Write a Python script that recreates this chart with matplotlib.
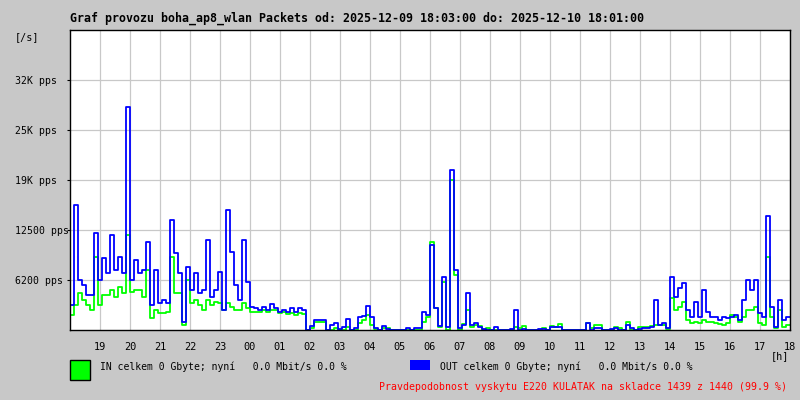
import matplotlib
matplotlib.use("Agg")
import matplotlib.pyplot as plt
import numpy as np
from matplotlib.patches import Rectangle

plt.rcParams['font.family'] = ['DejaVu Sans Mono']

# 8-minute samples from 18:00 to 18:00 next day, packets per second
out_pps = [
    3100, 15600, 6200, 5600, 4400, 4400, 12100, 6200, 9000, 7100,
    11900, 7500, 9100, 7100, 27900, 6200, 8700, 7100, 7500, 11000,
    3100, 7500, 3400, 3700, 3400, 13700, 9600, 7100, 1000, 7900,
    5000, 7100, 4600, 5000, 11200, 4100,
    5000, 7200, 2500, 15000, 9700, 5600, 3700, 11200, 6000, 2900,
    2700, 2500, 2900, 2500, 3200, 2700, 2200, 2500, 2200, 2700,
    2200, 2700, 2500, 0, 500, 1200, 1200, 1200, 0, 600,
    900, 100, 400, 1400, 0, 250,
    1600, 1700, 3000, 1600, 250, 0, 500, 100, 0, 0,
    0, 0, 250, 0, 250, 250, 2200, 1900, 10600, 2700,
    500, 6600, 400, 20000, 7500, 250, 600, 4600, 600, 900,
    400, 100, 0, 0, 400, 0,
    0, 0, 100, 2500, 0, 100, 0, 0, 0, 100,
    100, 0, 400, 400, 400, 0, 0, 0, 0, 0,
    0, 900, 0, 250, 250, 0, 0, 100, 250, 0,
    0, 600, 250, 0, 100, 250,
    250, 400, 3700, 600, 900, 250, 6600, 4100, 5200, 5900,
    2500, 1600, 3500, 1600, 5000, 2200, 1600, 1600, 1200, 1600,
    1500, 1600, 1900, 1200, 3700, 6200, 5000, 6200, 2100, 1600,
    14200, 2900, 400, 3700, 1200, 1600,
]
in_pps = [
    1900, 3100, 4600, 3700, 3100, 2500, 9100, 3100, 4400, 4400,
    5000, 4100, 5400, 4600, 11900, 4700, 5000, 5000, 4100, 7500,
    1500, 2500, 2100, 2100, 2200, 9100, 4600, 4600, 600, 6200,
    3400, 3700, 3100, 2500, 3700, 3100,
    3500, 3400, 2500, 3400, 2900, 2500, 2500, 3400, 2700, 2200,
    2200, 2200, 2500, 2200, 2500, 2500, 2100, 2200, 2000, 2100,
    1900, 2100, 2000, 0, 250, 1000, 1000, 1000, 0, 0,
    250, 0, 0, 400, 0, 0,
    900, 1200, 1900, 600, 100, 0, 250, 250, 0, 0,
    0, 0, 0, 0, 0, 0, 1000, 1600, 11000, 2700,
    400, 6000, 0, 18700, 6900, 0, 750, 2500, 400, 600,
    500, 0, 250, 0, 0, 0,
    0, 0, 0, 400, 250, 500, 0, 0, 0, 0,
    250, 0, 500, 400, 750, 0, 0, 0, 0, 0,
    0, 900, 250, 600, 600, 0, 0, 0, 400, 250,
    0, 1000, 0, 0, 400, 400,
    400, 500, 600, 600, 600, 100, 4000, 2500, 2900, 3500,
    1200, 900, 1000, 900, 1200, 1000, 1000, 900, 750, 600,
    900, 1900, 1600, 1000, 1600, 2500, 2500, 2900, 900, 600,
    9100, 1600, 250, 2500, 400, 600,
]
hours = ["19", "20", "21", "22", "23", "00", "01", "02", "03", "04", "05", "06",
         "07", "08", "09", "10", "11", "12", "13", "14", "15", "16", "17", "18"]
y_ticks = [6250, 12500, 18750, 25000, 31250]
y_labels = ["6200 pps", "12500 pps", "19K pps", "25K pps", "32K pps"]

title = "Graf provozu boha_ap8_wlan Packets od: 2025-12-09 18:03:00 do: 2025-12-10 18:01:00"
in_text = "IN celkem 0 Gbyte; nyní   0.0 Mbit/s 0.0 %"
out_text = "OUT celkem 0 Gbyte; nyní   0.0 Mbit/s 0.0 %"
note = "Pravdepodobnost vyskytu E220 KULATAK na skladce 1439 z 1440 (99.9 %)"

bg = "#c8c8c8"
W, H = 800, 400
fig = plt.figure(figsize=(8, 4), dpi=100, facecolor=bg)
ax = fig.add_axes([70 / W, 70 / H, 720 / W, 300 / H])

n = len(out_pps)
t = 18 + np.arange(n + 1) * 24 / n
ax.step(t, in_pps + [in_pps[-1]], where="post", color="#00ff00", lw=1.3)
ax.step(t, out_pps + [out_pps[-1]], where="post", color="#0000ff", lw=1.3)

ax.set_xlim(18, 42)
ax.set_ylim(0, 37500)
ax.set_xticks(np.arange(19, 43))
ax.set_xticklabels(hours)
ax.set_yticks(y_ticks)
ax.set_yticklabels(y_labels)
ax.grid(color=bg, lw=0.9)
ax.set_axisbelow(True)
for s in ax.spines.values():
    s.set_color("black")
    s.set_linewidth(1)
ax.tick_params(axis="x", length=0, pad=9, labelsize=7.4)
ax.tick_params(axis="y", length=2.5, pad=37, labelsize=7.1)
for lab in ax.get_yticklabels():
    lab.set_horizontalalignment("left")


def px(x, y):
    return x / W, 1 - y / H


fig.text(*px(70, 18), title, fontsize=8.35, fontweight="bold", va="center")
fig.text(*px(15, 37), "[/s]", fontsize=7.3, va="center")
fig.text(*px(771, 356), "[h]", fontsize=7.3, va="center")

fig.add_artist(Rectangle(px(70, 380), 20 / W, 20 / H, transform=fig.transFigure,
                         facecolor="#00ff00", edgecolor="black", lw=1))
fig.add_artist(Rectangle(px(410, 370), 20 / W, 10 / H, transform=fig.transFigure,
                         facecolor="#0000ff", edgecolor="none"))
fig.text(*px(100, 367), in_text, fontsize=7.0, va="center")
fig.text(*px(440, 367), out_text, fontsize=7.0, va="center")
fig.text(*px(379, 387), note, fontsize=7.1, va="center", color="#ff0000")

fig.savefig("out.png", dpi=100, facecolor=bg)
